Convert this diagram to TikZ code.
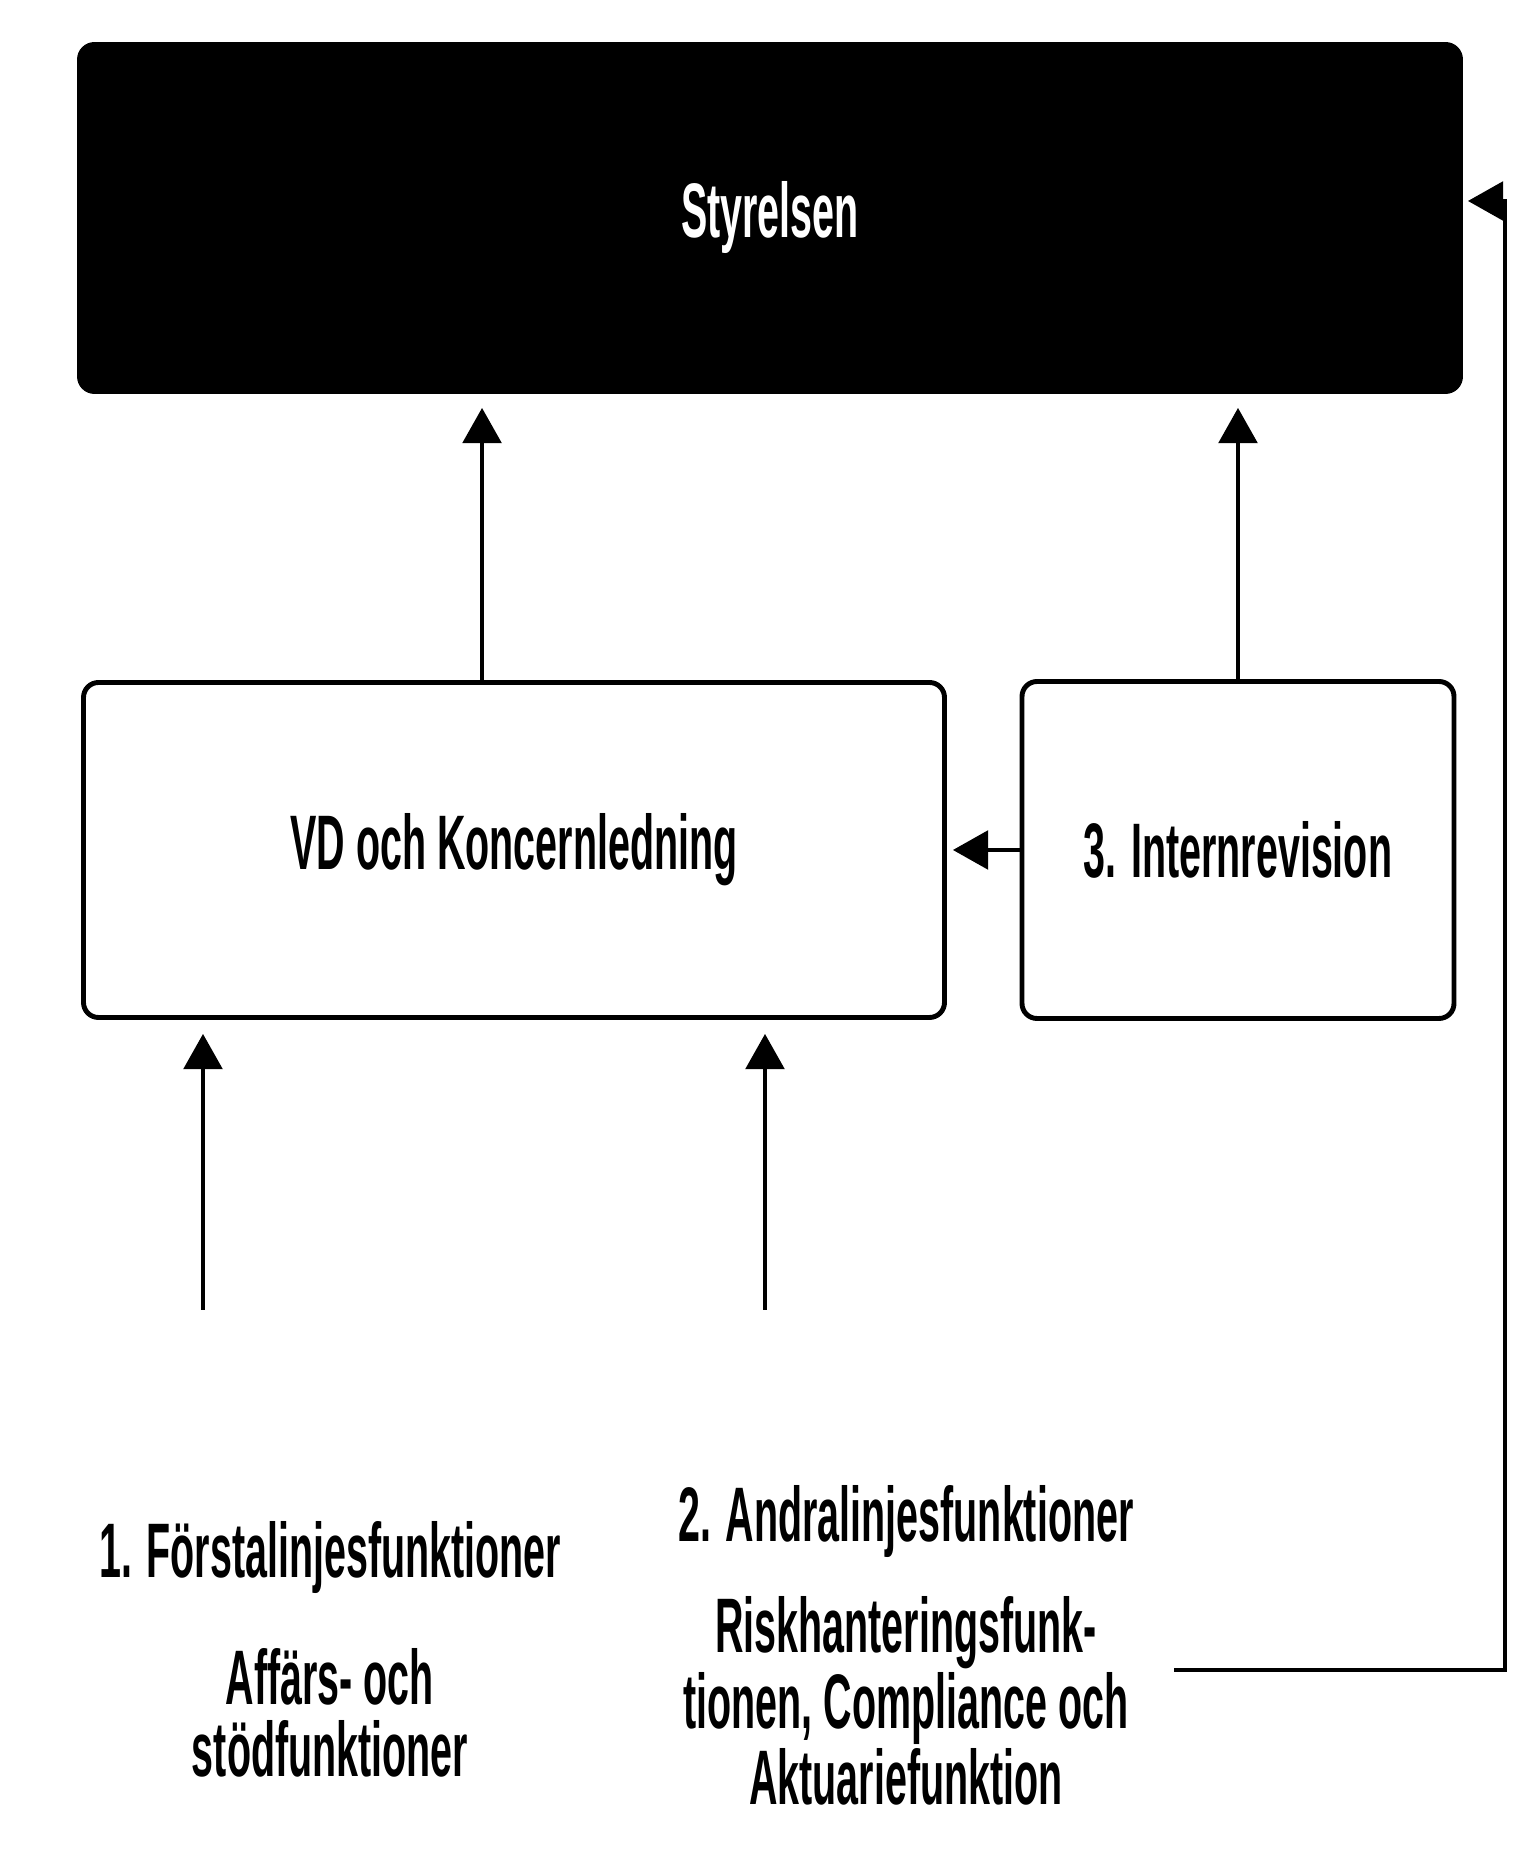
\documentclass[tikz,border=0pt]{standalone}
\usepackage{fontspec}
\setmainfont{Liberation Sans}[FakeStretch=0.51]
\usetikzlibrary{arrows.meta}

\tikzset{
    ruta/.style={draw, line width=1.4pt, rounded corners=0.15cm, align=center, inner sep=0pt},
    pil/.style={-{Triangle[length=10pt, width=11pt]}, line width=1pt, shorten >=0.14cm},
    etikett/.style={align=center}
}

\begin{document}
\begin{tikzpicture}[font=\fontsize{22}{20.5}\selectfont\bfseries]
    \useasboundingbox (0,0) rectangle (15.34,18.5);

    % Styrelsen
    \node[ruta, fill=black, text=white, minimum width=13.81cm, minimum height=3.47cm] (styr) at (7.70,16.32) {Styrelsen};

    % Ledning och revision
    \node[ruta, minimum width=8.61cm, minimum height=3.35cm] (vd) at (5.14,10.00) {VD och Koncernledning};
    \node[ruta, minimum width=4.32cm, minimum height=3.37cm] (ir) at (12.38,10.00) {3. Internrevision};

    % Linjerna
    \node[etikett] (t1) at (3.30,2.92) {1. Förstalinjesfunktioner};
    \node[etikett] (d1) at (3.30,1.37) {Affärs- och\\stödfunktioner};
    \node[etikett] (t2) at (9.06,3.28) {2. Andralinjesfunktioner};
    \node[etikett] (d2) at (9.06,1.49) {Riskhanteringsfunk-\\tionen, Compliance och\\Aktuariefunktion};

    \coordinate (b1) at (2.03,5.40);
    \coordinate (b2) at (7.65,5.40);
    \coordinate (l2out) at (11.74,1.80);
    \coordinate (loop) at (15.05,1.80);

    % Rapportering
    \draw[pil] ([xshift=4.01cm]vd.north west) -- ([xshift=4.01cm]vd.north west |- styr.south);
    \draw[pil] (ir.north) -- (ir.north |- styr.south);
    \draw[pil, shorten >=0.06cm] (ir.west) -- (vd.east);
    \draw[pil] (b1) -- (b1 |- vd.south);
    \draw[pil] (b2) -- (b2 |- vd.south);
    \draw[pil, shorten >=0.05cm] (l2out) -- (loop) |- ([yshift=0.17cm]styr.east);

\end{tikzpicture}
\end{document}
